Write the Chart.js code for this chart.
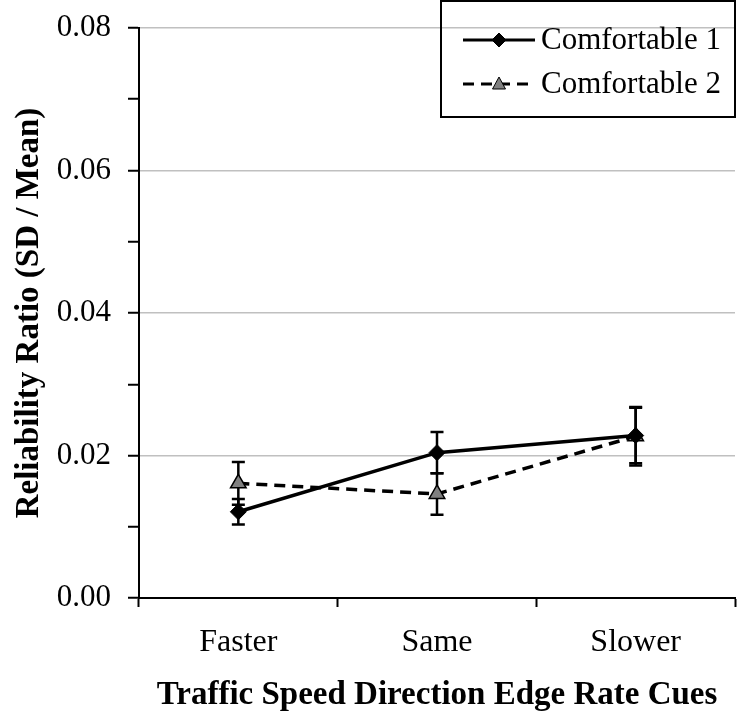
<!DOCTYPE html>
<html>
<head>
<meta charset="utf-8">
<script src="https://cdn.jsdelivr.net/npm/chart.js@4"></script>
<style>
  html, body { margin:0; padding:0; background:#fff; }
  #wrap { width:737px; height:721px; position:relative; }
</style>
</head>
<body>
<div id="wrap"><canvas id="chart"></canvas></div>
<script>
const categories = ["Faster", "Same", "Slower"];
const comf1 = [0.0121, 0.0204, 0.0228];
const comf1Err = [0.0018, 0.0029, 0.0039];
const comf2 = [0.0161, 0.0146, 0.0227];
const comf2Err = [0.0030, 0.0029, 0.0041];
const seriesNames = ["Comfortable 1", "Comfortable 2"];

const FONT = "'Liberation Serif', 'Times New Roman', serif";

// error bars, drawn under the markers
const errorBars = {
  id: "errorBars",
  beforeDatasetsDraw(chart){
    const ctx = chart.ctx, y = chart.scales.y;
    const errs = [comf1Err, comf2Err];
    ctx.save();
    ctx.strokeStyle = "#000";
    ctx.lineWidth = 2.5;
    chart.data.datasets.forEach((ds, di)=>{
      const meta = chart.getDatasetMeta(di);
      meta.data.forEach((pt, i)=>{
        const v = ds.data[i], e = errs[di][i];
        const top = y.getPixelForValue(v + e), bot = y.getPixelForValue(v - e);
        ctx.beginPath();
        ctx.moveTo(pt.x, top); ctx.lineTo(pt.x, bot);
        ctx.moveTo(pt.x - 6.5, top); ctx.lineTo(pt.x + 6.5, top);
        ctx.moveTo(pt.x - 6.5, bot); ctx.lineTo(pt.x + 6.5, bot);
        ctx.stroke();
      });
    });
    ctx.restore();
  }
};

function marker(ctx, style, x, y, fill){
  ctx.beginPath();
  if (style === "rectRot") {
    ctx.moveTo(x, y-7); ctx.lineTo(x+7, y); ctx.lineTo(x, y+7); ctx.lineTo(x-7, y);
  } else {
    ctx.moveTo(x, y-7); ctx.lineTo(x+6.5, y+5); ctx.lineTo(x-6.5, y+5);
  }
  ctx.closePath();
  ctx.fillStyle = fill; ctx.fill();
  ctx.lineWidth = 1; ctx.strokeStyle = "#000"; ctx.stroke();
}

// boxed legend, top right
const boxLegend = {
  id: "boxLegend",
  afterDraw(chart){
    const ctx = chart.ctx;
    ctx.save();
    ctx.strokeStyle = "#000";
    ctx.lineWidth = 2;
    ctx.strokeRect(441, 1, 294, 116);
    chart.data.datasets.forEach((ds, i)=>{
      const yy = 40 + i*44;
      ctx.beginPath();
      ctx.setLineDash(ds.borderDash || []);
      ctx.lineWidth = 3;
      ctx.strokeStyle = "#000";
      ctx.moveTo(463, yy); ctx.lineTo(535, yy);
      ctx.stroke();
      ctx.setLineDash([]);
      marker(ctx, ds.pointStyle, 499, yy, ds.pointBackgroundColor);
      ctx.fillStyle = "#000";
      ctx.font = "31px " + FONT;
      ctx.textBaseline = "middle";
      ctx.textAlign = "left";
      ctx.fillText(ds.label, 541, yy + 1);
    });
    ctx.restore();
  }
};

new Chart(document.getElementById("chart"), {
  type: "line",
  data: {
    labels: categories,
    datasets: [
      { label: seriesNames[0], data: comf1, borderColor:"#000", borderWidth:3.5,
        pointStyle:"rectRot", pointRadius:8, pointBackgroundColor:"#000",
        pointBorderColor:"#000", pointBorderWidth:1, tension:0 },
      { label: seriesNames[1], data: comf2, borderColor:"#000", borderWidth:3.5,
        borderDash:[11,7], pointStyle:"triangle", pointRadius:9,
        pointBackgroundColor:"#808080", pointBorderColor:"#000", pointBorderWidth:1.5, tension:0 }
    ]
  },
  options: {
    responsive: true,
    maintainAspectRatio: false,
    animation: false,
    layout: { autoPadding: false, padding: { top: 28, right: 2, left: 0, bottom: 0 } },
    plugins: { legend: { display:false }, tooltip: { enabled:false } },
    scales: {
      x: {
        type: "category",
        offset: true,
        afterFit: s => { s.height = 123; s.paddingLeft = 0; s.paddingRight = 0; },
        grid: { offset:true, drawOnChartArea:false, color:"#000", tickColor:"#000", tickLength:9, tickWidth:2 },
        border: { color:"#000", width:2 },
        ticks: { color:"#000", font:{ family:FONT, size:32 }, padding:16 },
        title: { display:true, text:"Traffic Speed Direction Edge Rate Cues", color:"#000",
                 font:{ family:FONT, size:33, weight:"bold" }, padding:{ top:4, bottom:6 } }
      },
      y: {
        min: 0, max: 0.08,
        afterFit: s => { s.width = 139; s.paddingTop = 0; s.paddingBottom = 0; },
        grid: {
          color: c => (c.index % 2 === 0 && c.index > 0) ? "#c0c0c0" : "rgba(0,0,0,0)",
          lineWidth: 1.5, tickColor:"#000", tickLength:11, tickWidth:2
        },
        border: { color:"#000", width:2 },
        ticks: {
          stepSize: 0.01, autoSkip:false, color:"#000",
          font:{ family:FONT, size:31 }, padding:17,
          callback: (v, i) => i % 2 === 0 ? v.toFixed(2) : ""
        },
        title: { display:true, text:"Reliability Ratio (SD / Mean)", color:"#000",
                 font:{ family:FONT, size:33, weight:"bold" }, padding:{ top:10, bottom:0 } }
      }
    }
  },
  plugins: [errorBars, boxLegend]
});
</script>
</body>
</html>
